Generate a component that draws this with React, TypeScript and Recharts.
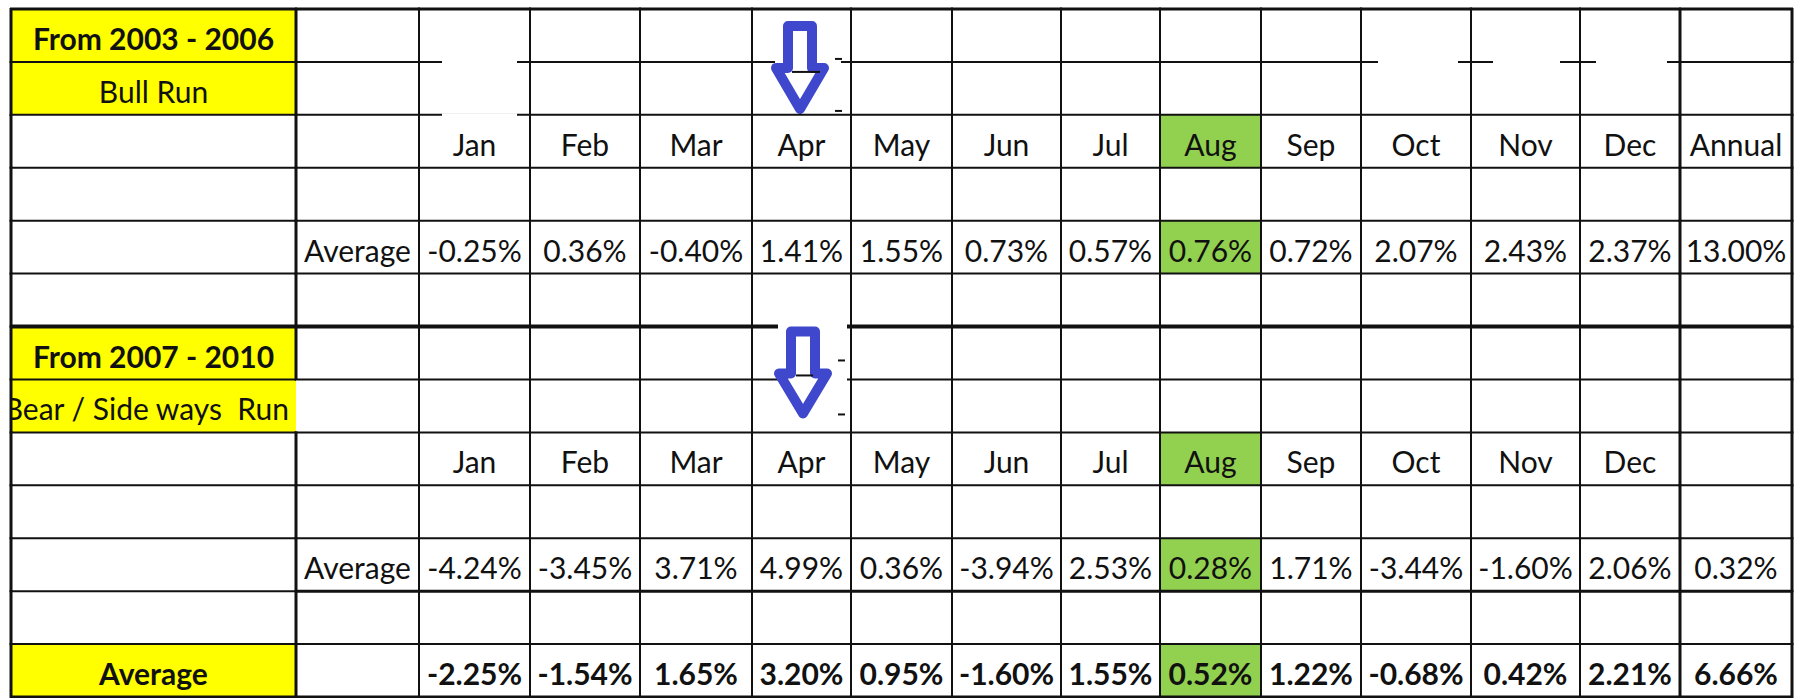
import React from "react";
import { Bar, BarChart, XAxis, YAxis } from "recharts";

const MONTHS = ["Jan", "Feb", "Mar", "Apr", "May", "Jun", "Jul", "Aug", "Sep", "Oct", "Nov", "Dec"];
const BULL_AVG = [-0.25, 0.36, -0.4, 1.41, 1.55, 0.73, 0.57, 0.76, 0.72, 2.07, 2.43, 2.37];
const BULL_ANNUAL = 13.0;
const BEAR_AVG = [-4.24, -3.45, 3.71, 4.99, 0.36, -3.94, 2.53, 0.28, 1.71, -3.44, -1.6, 2.06];
const BEAR_ANNUAL = 0.32;
const ALL_AVG = [-2.25, -1.54, 1.65, 3.2, 0.95, -1.6, 1.55, 0.52, 1.22, -0.68, 0.42, 2.21];
const ALL_ANNUAL = 6.66;

// spreadsheet column widths (px), label col + "Average" col + 12 months + Annual
const COL_WIDTHS = [285, 123, 111, 110, 112, 99, 101, 109, 99, 101, 100, 110, 109, 100, 112];
const TOTAL_W = COL_WIDTHS.reduce((a, b) => a + b, 0);

const YELLOW = "#FFFF00";
const GREEN = "#92D050";
const LINE = "#111";
const ARROW = "#3F48CC";
const AUG_COL = 2 + MONTHS.indexOf("Aug");
const APR_COL = 2 + MONTHS.indexOf("Apr");

// bits of grid line that were rubbed out in the screenshot: [row, col, from, to] along the cell's top edge
const ERASED: [number, number, number, number][] = [
  [1, 2, 23, 98],
  [2, 2, 23, 98],
  [1, 11, 17, 97],
  [1, 12, 22, 89],
  [1, 13, 16, 87],
];

const fmt = (v: number) => `${v.toFixed(2)}%`;
const row = (...cells: string[]) => [...cells, ...Array(15 - cells.length).fill("")];

const ROW_TEXTS: string[][] = [
  row("From 2003 - 2006"),
  row("Bull Run"),
  row("", "", ...MONTHS, "Annual"),
  row(),
  row("", "Average", ...BULL_AVG.map(fmt), fmt(BULL_ANNUAL)),
  row(),
  row("From 2007 - 2010"),
  row("Bear / Side ways  Run"),
  row("", "", ...MONTHS),
  row(),
  row("", "Average", ...BEAR_AVG.map(fmt), fmt(BEAR_ANNUAL)),
  row(),
  row("Average", "", ...ALL_AVG.map(fmt), fmt(ALL_ANNUAL)),
];

const YELLOW_ROWS = [0, 1, 6, 7, 12];
const GREEN_ROWS = [2, 4, 8, 10, 12];

const table = ROW_TEXTS.map((texts, i) => {
  const d: Record<string, any> = { row: `r${i}`, idx: i, texts };
  COL_WIDTHS.forEach((w, c) => (d[`c${c}`] = w));
  return d;
});

function leftWidth(r: number, c: number) {
  if (c === 0 || c === 14) return 3;
  if (c === 1) return r === 7 ? 0 : 3;
  return 2;
}

function topWidth(r: number, c: number) {
  if (r === 0) return 3;
  if (r === 6) return 4;
  if (r === 11 && c >= 1) return 3;
  return 2;
}

function Arrow({ cx, top, headY, tip }: { cx: number; top: number; headY: number; tip: number }) {
  const s = 12;
  const h = 24;
  const d = `M${cx - s},${top} L${cx + s},${top} L${cx + s},${headY} L${cx + h},${headY} L${cx},${tip} L${cx - h},${headY} L${cx - s},${headY} Z`;
  return <path d={d} fill="#fff" stroke={ARROW} strokeWidth={10} strokeLinejoin="round" />;
}

function CellShape(props: any) {
  const { x, y, width, height, payload, col } = props;
  const r: number = payload.idx;
  const text: string = payload.texts[col];
  let fill = "#fff";
  if (col === 0 && YELLOW_ROWS.includes(r)) fill = YELLOW;
  if (col === AUG_COL && GREEN_ROWS.includes(r)) fill = GREEN;
  const bold = r === 12 || (col === 0 && (r === 0 || r === 6));
  const lw = leftWidth(r, col);
  const tw = topWidth(r, col);
  const clipId = `clip-${r}-${col}`;
  const overflow = col === 0 && r === 7;
  const erased = ERASED.filter((e) => e[0] === r && e[1] === col);

  return (
    <g>
      <rect x={x} y={y} width={width} height={height} fill={fill} />
      {overflow && (
        <defs>
          <clipPath id={clipId}>
            <rect x={x + 1} y={y} width={width} height={height} />
          </clipPath>
        </defs>
      )}
      {text && (
        <text
          x={overflow ? x + width - 7 : x + width / 2}
          y={y + height - 12}
          textAnchor={overflow ? "end" : "middle"}
          fontFamily="Lato, 'Noto Sans', sans-serif"
          fontSize={30}
          fontWeight={bold ? 700 : 400}
          fill="#111"
          style={{ whiteSpace: "pre" }}
          clipPath={overflow ? `url(#${clipId})` : undefined}
        >
          {text}
        </text>
      )}
      {tw > 0 && <line x1={x - 1} x2={x + width + 1} y1={y} y2={y} stroke={LINE} strokeWidth={tw} />}
      {erased.map(([, , a, b], i) => (
        <line key={i} x1={x + a} x2={x + b} y1={y} y2={y} stroke="#fff" strokeWidth={tw + 1} />
      ))}
      {lw > 0 && <line x1={x} x2={x} y1={y - 1} y2={y + height + 1} stroke={LINE} strokeWidth={lw} />}
      {col === 14 && <line x1={x + width} x2={x + width} y1={y - 1} y2={y + height + 1} stroke={LINE} strokeWidth={3} />}
      {r === 12 && <line x1={x - 1} x2={x + width + 1} y1={y + height} y2={y + height} stroke={LINE} strokeWidth={3} />}
      {col === APR_COL && r === 1 && (
        <g>
          <rect x={x + 23} y={y - 6} width={66} height={height + 6} fill="#fff" />
          <Arrow cx={x + 48} top={y - 36} headY={y + 6} tip={y + 47} />
          <line x1={x + 40} x2={x + 68} y1={y + 10} y2={y + 10} stroke={LINE} strokeWidth={2} />
          <line x1={x + 83} x2={x + 90} y1={y - 3} y2={y - 3} stroke={LINE} strokeWidth={2} />
          <line x1={x + 83} x2={x + 90} y1={y + height - 4} y2={y + height - 4} stroke={LINE} strokeWidth={2} />
        </g>
      )}
      {col === APR_COL && r === 7 && (
        <g>
          <rect x={x + 26} y={y - height - 6} width={69} height={2 * height} fill="#fff" />
          <Arrow cx={x + 51} top={y - 48} headY={y - 6} tip={y + 34} />
          <line x1={x + 44} x2={x + 61} y1={y - 4} y2={y - 4} stroke={LINE} strokeWidth={2} />
          <line x1={x + 86} x2={x + 93} y1={y - 19} y2={y - 19} stroke={LINE} strokeWidth={2} />
          <line x1={x + 86} x2={x + 93} y1={y + 35} y2={y + 35} stroke={LINE} strokeWidth={2} />
        </g>
      )}
    </g>
  );
}

export default function App() {
  return (
    <div style={{ position: "fixed", left: 0, top: 0, background: "#fff" }}>
      <BarChart
        width={1798}
        height={698}
        data={table}
        layout="vertical"
        barCategoryGap={0}
        barGap={0}
        margin={{ top: 9, right: 6, bottom: 1, left: 11 }}
      >
        <XAxis type="number" domain={[0, TOTAL_W]} hide />
        <YAxis type="category" dataKey="row" hide />
        {COL_WIDTHS.map((_, c) => (
          <Bar
            key={c}
            dataKey={`c${c}`}
            stackId="t"
            isAnimationActive={false}
            shape={(p: any) => <CellShape {...p} col={c} />}
          />
        ))}
      </BarChart>
    </div>
  );
}
